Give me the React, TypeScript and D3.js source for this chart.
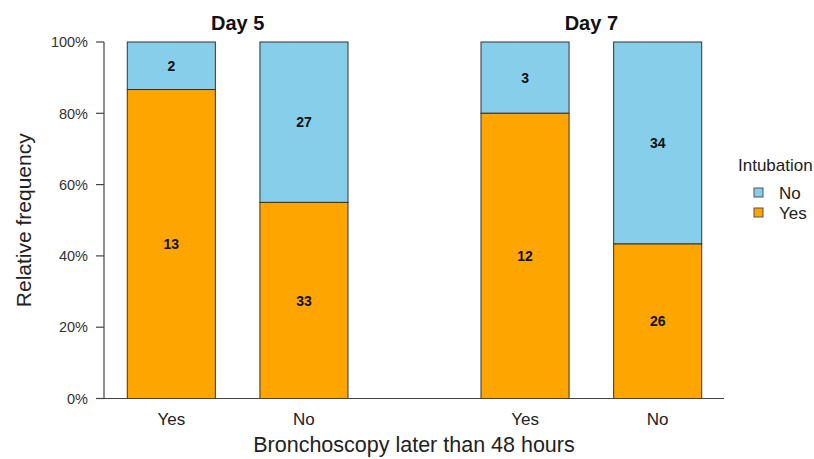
import React from "react";
import * as d3 from "d3";

const days = ["Day 5", "Day 7"];
const groups = ["Yes", "No"];
const intubationYes = [13, 33, 12, 26];
const intubationNo = [2, 27, 3, 34];
const yTicks = [0, 0.2, 0.4, 0.6, 0.8, 1.0];
const legendItems = ["No", "Yes"];
const colors: Record<string, string> = { No: "#87CEEB", Yes: "#FFA500" };

const W = 814;
const H = 459;
const FONT = "'Liberation Sans', Arial, sans-serif";

export default function App() {
  const y = d3.scaleLinear().domain([0, 1]).range([398.5, 42]);
  const outer = d3.scaleBand<string>().domain(days).range([105, 724]).paddingInner(0.25).paddingOuter(0);
  const inner = d3
    .scaleBand<string>()
    .domain(groups)
    .range([0, outer.bandwidth()])
    .paddingInner(0.336)
    .paddingOuter(0.168);

  const rows = days.flatMap((day, di) =>
    groups.map((g, gi) => {
      const idx = di * groups.length + gi;
      const yes = intubationYes[idx];
      const no = intubationNo[idx];
      const total = yes + no;
      return { day, g, yes, no, pYes: yes / total, x: (outer(day) as number) + (inner(g) as number) };
    })
  );
  const bw = inner.bandwidth();
  const fmt = d3.format(".0%");

  return (
    <svg width={W} height={H} style={{ display: "block", position: "absolute", left: 0, top: 0 }} fontFamily={FONT}>
      <rect width={W} height={H} fill="#fff" />
      {/* bars */}
      {rows.map((r, i) => (
        <g key={i}>
          <rect x={r.x} y={y(1)} width={bw} height={y(r.pYes) - y(1)} fill={colors.No} stroke="#333" strokeWidth={1} />
          <rect x={r.x} y={y(r.pYes)} width={bw} height={y(0) - y(r.pYes)} fill={colors.Yes} stroke="#333" strokeWidth={1} />
          <text x={r.x + bw / 2} y={y((1 + r.pYes) / 2)} dy="0.36em" textAnchor="middle" fontWeight="bold" fontSize={14} fill="#111">
            {r.no}
          </text>
          <text x={r.x + bw / 2} y={y(r.pYes / 2)} dy="0.36em" textAnchor="middle" fontWeight="bold" fontSize={14} fill="#111">
            {r.yes}
          </text>
          <text x={r.x + bw / 2} y={425} textAnchor="middle" fontSize={17} fill="#222">
            {r.g}
          </text>
        </g>
      ))}
      {/* day titles */}
      {days.map((d) => (
        <text key={d} x={(outer(d) as number) + outer.bandwidth() / 2} y={30} textAnchor="middle" fontWeight="bold" fontSize={20} fill="#111">
          {d}
        </text>
      ))}
      {/* y axis */}
      <line x1={104} x2={104} y1={y(1)} y2={y(0)} stroke="#444" strokeWidth={1.2} />
      {yTicks.map((t) => (
        <g key={t}>
          <line x1={96} x2={104} y1={y(t)} y2={y(t)} stroke="#444" strokeWidth={1.2} />
          <text x={88} y={y(t)} dy="0.36em" textAnchor="end" fontSize={14.5} fill="#333">
            {fmt(t)}
          </text>
        </g>
      ))}
      {/* x axis line */}
      <line x1={96} x2={724} y1={y(0)} y2={y(0)} stroke="#444" strokeWidth={1.2} />
      {/* axis titles */}
      <text transform={`translate(31,${(y(0) + y(1)) / 2}) rotate(-90)`} textAnchor="middle" fontSize={21} fill="#222">
        Relative frequency
      </text>
      <text x={414} y={452} textAnchor="middle" fontSize={21.5} fill="#222">
        Bronchoscopy later than 48 hours
      </text>
      {/* legend */}
      <text x={738} y={171} fontSize={17} fill="#222">
        Intubation
      </text>
      {legendItems.map((k, i) => (
        <g key={k}>
          <rect x={754} y={188 + i * 20} width={9} height={9} fill={colors[k]} stroke="#555" strokeWidth={1} />
          <text x={779} y={192.5 + i * 20} dy="0.36em" fontSize={17} fill="#222">
            {k}
          </text>
        </g>
      ))}
    </svg>
  );
}
